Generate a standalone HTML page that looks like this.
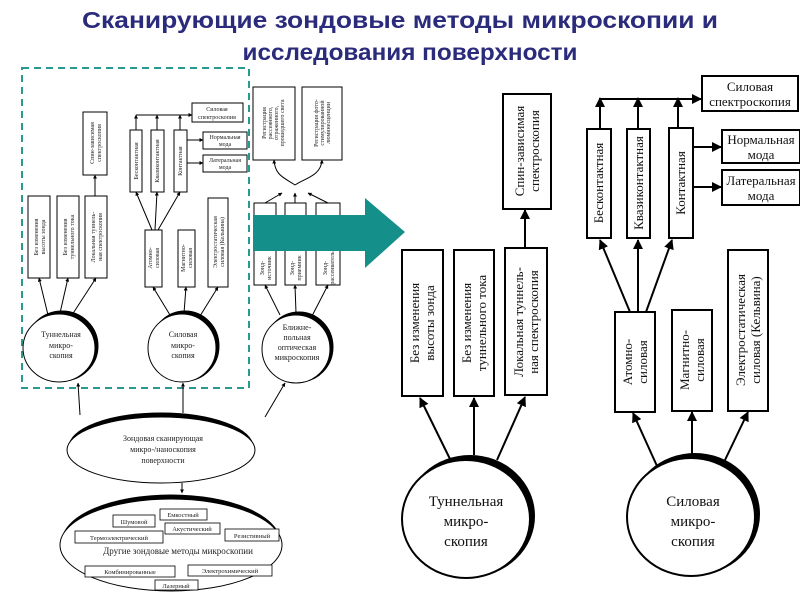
<!DOCTYPE html>
<html><head><meta charset="utf-8"><style>
html,body{margin:0;padding:0;background:#fff;width:800px;height:600px;overflow:hidden}
svg{display:block}
</style></head><body>
<svg width="800" height="600" viewBox="0 0 800 600" xmlns="http://www.w3.org/2000/svg">
<defs>
<marker id="a" viewBox="0 0 10 10" refX="9" refY="5" markerWidth="5" markerHeight="5" orient="auto"><path d="M0,0L10,5L0,10z" fill="#000"/></marker>
<marker id="s" viewBox="0 0 10 10" refX="9" refY="5" markerWidth="4" markerHeight="4" orient="auto"><path d="M0,0L10,5L0,10z" fill="#000"/></marker>
</defs>
<!-- Title -->
<g font-family="Liberation Sans, sans-serif" font-weight="bold" font-size="23" fill="#2b2b7c" text-anchor="middle">
<text x="400" y="28" textLength="636" lengthAdjust="spacingAndGlyphs">Сканирующие зондовые методы микроскопии и</text>
<text x="410" y="60" textLength="335" lengthAdjust="spacingAndGlyphs">исследования поверхности</text>
</g>

<!-- LEFT SMALL DIAGRAM -->
<rect x="22" y="68" width="227" height="320" fill="none" stroke="#2a9a90" stroke-width="2" stroke-dasharray="7,5"/>
<g fill="#fff" stroke="#000" stroke-width="1">
<rect x="28" y="196" width="22" height="82"/><rect x="57" y="196" width="22" height="82"/><rect x="85" y="196" width="22" height="82"/>
<rect x="83" y="112" width="24" height="63"/>
<rect x="145" y="230" width="17" height="57"/><rect x="178" y="230" width="17" height="57"/><rect x="208" y="198" width="20" height="89"/>
<rect x="130" y="130" width="12" height="62"/><rect x="151" y="130" width="13" height="62"/><rect x="174" y="130" width="13" height="62"/>
<rect x="192" y="103" width="51" height="19"/><rect x="203" y="132" width="44" height="17"/><rect x="203" y="155" width="44" height="17"/>
<rect x="253" y="87" width="42" height="73"/><rect x="302" y="87" width="40" height="73"/>
<rect x="254" y="203" width="22" height="82"/><rect x="285" y="203" width="21" height="82"/><rect x="316" y="203" width="24" height="82"/>
</g>
<g font-family="Liberation Serif, serif" font-size="6" fill="#222" text-anchor="middle">
<text transform="translate(39,237) rotate(-90)"><tspan x="0" dy="-1">Без изменения</tspan><tspan x="0" dy="7">высоты зонда</tspan></text>
<text transform="translate(68,237) rotate(-90)"><tspan x="0" dy="-1">Без изменения</tspan><tspan x="0" dy="7">туннельного тока</tspan></text>
<text transform="translate(96,237) rotate(-90)"><tspan x="0" dy="-1">Локальная туннель-</tspan><tspan x="0" dy="7">ная спектроскопия</tspan></text>
<text transform="translate(95,143) rotate(-90)"><tspan x="0" dy="-1">Спин-зависимая</tspan><tspan x="0" dy="7">спектроскопия</tspan></text>
<text transform="translate(153,258) rotate(-90)"><tspan x="0" dy="-1">Атомно-</tspan><tspan x="0" dy="7">силовая</tspan></text>
<text transform="translate(186,258) rotate(-90)"><tspan x="0" dy="-1">Магнитно-</tspan><tspan x="0" dy="7">силовая</tspan></text>
<text transform="translate(218,242) rotate(-90)"><tspan x="0" dy="-1">Электростатическая</tspan><tspan x="0" dy="7">силовая (Кельвина)</tspan></text>
<text transform="translate(138,161) rotate(-90)">Бесконтактная</text>
<text transform="translate(159,161) rotate(-90)">Квазиконтактная</text>
<text transform="translate(182,161) rotate(-90)">Контактная</text>
<text x="217" y="111">Силовая</text><text x="217" y="119">спектроскопия</text>
<text x="225" y="139">Нормальная</text><text x="225" y="146">мода</text>
<text x="225" y="162">Латеральная</text><text x="225" y="169">мода</text>
<text transform="translate(274,123) rotate(-90)"><tspan x="0" dy="-8">Регистрация</tspan><tspan x="0" dy="6">рассеянного,</tspan><tspan x="0" dy="6">отраженного,</tspan><tspan x="0" dy="6">прошедшего света</tspan></text>
<text transform="translate(322,123) rotate(-90)"><tspan x="0" dy="-4">Регистрация фото-</tspan><tspan x="0" dy="6">стимулированной</tspan><tspan x="0" dy="6">люминесценции</tspan></text>
<text transform="translate(265,268) rotate(-90)"><tspan x="0" dy="-1">Зонд-</tspan><tspan x="0" dy="7">источник</tspan></text>
<text transform="translate(295,268) rotate(-90)"><tspan x="0" dy="-1">Зонд-</tspan><tspan x="0" dy="7">приемник</tspan></text>
<text transform="translate(328,268) rotate(-90)"><tspan x="0" dy="-1">Зонд-</tspan><tspan x="0" dy="7">рассеиватель</tspan></text>
</g>
<g stroke="#000" stroke-width="1" fill="none" marker-end="url(#s)">
<line x1="95" y1="196" x2="95" y2="175"/>
<line x1="48" y1="315" x2="39" y2="278"/><line x1="60" y1="313" x2="68" y2="278"/><line x1="72" y1="315" x2="96" y2="278"/>
<line x1="170" y1="315" x2="153" y2="287"/><line x1="184" y1="313" x2="186" y2="287"/><line x1="200" y1="316" x2="218" y2="287"/>
<line x1="152" y1="230" x2="136" y2="192"/><line x1="155" y1="230" x2="157" y2="192"/><line x1="158" y1="230" x2="180" y2="192"/>
<line x1="136" y1="130" x2="136" y2="115"/><line x1="157" y1="130" x2="157" y2="115"/><line x1="180" y1="130" x2="180" y2="115"/>
<line x1="187" y1="140" x2="203" y2="140"/><line x1="187" y1="163" x2="203" y2="163"/>
<line x1="280" y1="315" x2="265" y2="285"/><line x1="296" y1="313" x2="295" y2="285"/><line x1="312" y1="316" x2="328" y2="285"/>
<line x1="265" y1="203" x2="282" y2="193"/><line x1="295" y1="203" x2="295" y2="193"/><line x1="328" y1="203" x2="308" y2="193"/>
<path d="M295,185 C285,178 275,176 274,160"/><path d="M295,185 C305,178 321,176 322,160"/>
<line x1="80" y1="415" x2="78" y2="383"/><line x1="183" y1="413" x2="183" y2="383"/><line x1="265" y1="417" x2="285" y2="383"/>
<line x1="182" y1="483" x2="182" y2="493"/>
</g>
<line x1="136" y1="115" x2="192" y2="115" stroke="#000" marker-end="url(#s)"/>
<!-- left circles -->
<g stroke="#000" stroke-width="1">
<ellipse cx="62" cy="346" rx="36" ry="35" fill="#000"/><ellipse cx="59" cy="348" rx="36" ry="34" fill="#fff"/>
<ellipse cx="185" cy="346" rx="34" ry="35" fill="#000"/><ellipse cx="182" cy="348" rx="34" ry="34" fill="#fff"/>
<ellipse cx="299" cy="347" rx="34" ry="35" fill="#000"/><ellipse cx="296" cy="349" rx="34" ry="34" fill="#fff"/>
<ellipse cx="161" cy="447" rx="92" ry="34" fill="#000"/><ellipse cx="161" cy="450" rx="94" ry="33" fill="#fff"/>
<ellipse cx="171" cy="542" rx="109" ry="47" fill="#000"/><ellipse cx="171" cy="545" rx="111" ry="46" fill="#fff"/>
</g>
<g font-family="Liberation Serif, serif" font-size="8" fill="#222" text-anchor="middle">
<text x="61" y="337">Туннельная</text><text x="61" y="348">микро-</text><text x="61" y="358">скопия</text>
<text x="183" y="337">Силовая</text><text x="183" y="348">микро-</text><text x="183" y="358">скопия</text>
<text x="297" y="330">Ближне-</text><text x="297" y="340">польная</text><text x="297" y="350">оптическая</text><text x="297" y="360">микроскопия</text>
<text x="163" y="441">Зондовая сканирующая</text><text x="163" y="452">микро-/наноскопия</text><text x="163" y="463">поверхности</text>
<text x="178" y="554" font-size="9">Другие зондовые методы микроскопии</text>
</g>
<g fill="#fff" stroke="#000" stroke-width="0.8">
<rect x="113" y="515" width="42" height="12"/><rect x="160" y="509" width="47" height="11"/><rect x="165" y="523" width="55" height="11"/>
<rect x="225" y="529" width="54" height="12"/><rect x="75" y="531" width="88" height="12"/>
<rect x="85" y="566" width="90" height="11"/><rect x="188" y="565" width="84" height="11"/><rect x="155" y="580" width="43" height="10"/>
</g>
<g font-family="Liberation Serif, serif" font-size="6.5" fill="#222" text-anchor="middle">
<text x="134" y="524">Шумовой</text><text x="183" y="517">Емкостный</text><text x="192" y="531">Акустический</text>
<text x="252" y="538">Резистивный</text><text x="119" y="540">Термоэлектрический</text>
<text x="130" y="574">Комбинированные</text><text x="230" y="573">Электрохимический</text><text x="176" y="588">Лазерный</text>
</g>

<!-- teal arrow -->
<path d="M253,215 L365,215 L365,198 L405,232 L365,268 L365,251 L253,251 Z" fill="#158f8a"/>

<!-- RIGHT BIG DIAGRAM -->
<g fill="#fff" stroke="#000" stroke-width="2">
<rect x="402" y="250" width="41" height="146"/><rect x="454" y="250" width="40" height="146"/><rect x="505" y="248" width="42" height="147"/>
<rect x="503" y="94" width="48" height="115"/>
<rect x="615" y="312" width="40" height="100"/><rect x="672" y="310" width="40" height="101"/><rect x="728" y="250" width="40" height="161"/>
<rect x="587" y="129" width="24" height="109"/><rect x="627" y="129" width="23" height="109"/><rect x="669" y="128" width="24" height="110"/>
<rect x="702" y="76" width="96" height="35"/><rect x="722" y="130" width="78" height="33"/><rect x="722" y="170" width="78" height="35"/>
</g>
<g font-family="Liberation Serif, serif" font-size="13" fill="#111" text-anchor="middle">
<text transform="translate(422,323) rotate(-90)"><tspan x="0" dy="-3">Без изменения</tspan><tspan x="0" dy="15">высоты зонда</tspan></text>
<text transform="translate(474,323) rotate(-90)"><tspan x="0" dy="-3">Без изменения</tspan><tspan x="0" dy="15">туннельного тока</tspan></text>
<text transform="translate(526,322) rotate(-90)"><tspan x="0" dy="-3">Локальная туннель-</tspan><tspan x="0" dy="15">ная спектроскопия</tspan></text>
<text transform="translate(527,151) rotate(-90)"><tspan x="0" dy="-3">Спин-зависимая</tspan><tspan x="0" dy="15">спектроскопия</tspan></text>
<text transform="translate(635,362) rotate(-90)"><tspan x="0" dy="-3">Атомно-</tspan><tspan x="0" dy="15">силовая</tspan></text>
<text transform="translate(692,360) rotate(-90)"><tspan x="0" dy="-3">Магнитно-</tspan><tspan x="0" dy="15">силовая</tspan></text>
<text transform="translate(748,330) rotate(-90)"><tspan x="0" dy="-3">Электростатическая</tspan><tspan x="0" dy="15">силовая (Кельвина)</tspan></text>
<text transform="translate(603,183) rotate(-90)">Бесконтактная</text>
<text transform="translate(643,183) rotate(-90)">Квазиконтактная</text>
<text transform="translate(685,183) rotate(-90)">Контактная</text>
<text x="750" y="91">Силовая</text><text x="750" y="106">спектроскопия</text>
<text x="761" y="144">Нормальная</text><text x="761" y="159">мода</text>
<text x="761" y="185">Латеральная</text><text x="761" y="200">мода</text>
</g>
<g stroke="#000" stroke-width="2" fill="none" marker-end="url(#a)">
<line x1="525" y1="248" x2="525" y2="210"/>
<line x1="450" y1="459" x2="420" y2="398"/><line x1="474" y1="455" x2="474" y2="398"/><line x1="497" y1="460" x2="525" y2="397"/>
<line x1="657" y1="466" x2="633" y2="413"/><line x1="692" y1="456" x2="692" y2="412"/><line x1="725" y1="460" x2="748" y2="412"/>
<line x1="630" y1="312" x2="600" y2="240"/><line x1="638" y1="312" x2="638" y2="240"/><line x1="646" y1="312" x2="672" y2="240"/>
<line x1="600" y1="129" x2="600" y2="98"/><line x1="638" y1="129" x2="638" y2="98"/><line x1="678" y1="128" x2="678" y2="98"/>
<line x1="600" y1="99" x2="701" y2="99"/>
<line x1="693" y1="147" x2="721" y2="147"/><line x1="693" y1="187" x2="721" y2="187"/>
</g>
<g stroke="#000" stroke-width="2">
<ellipse cx="470" cy="516" rx="64" ry="60" fill="#000"/><ellipse cx="466" cy="519" rx="64" ry="59" fill="#fff"/>
<ellipse cx="695" cy="514" rx="64" ry="60" fill="#000"/><ellipse cx="691" cy="517" rx="64" ry="59" fill="#fff"/>
</g>
<g font-family="Liberation Serif, serif" font-size="15" fill="#111" text-anchor="middle">
<text x="466" y="506">Туннельная</text><text x="466" y="526">микро-</text><text x="466" y="546">скопия</text>
<text x="693" y="506">Силовая</text><text x="693" y="526">микро-</text><text x="693" y="546">скопия</text>
</g>
</svg>
</body></html>
